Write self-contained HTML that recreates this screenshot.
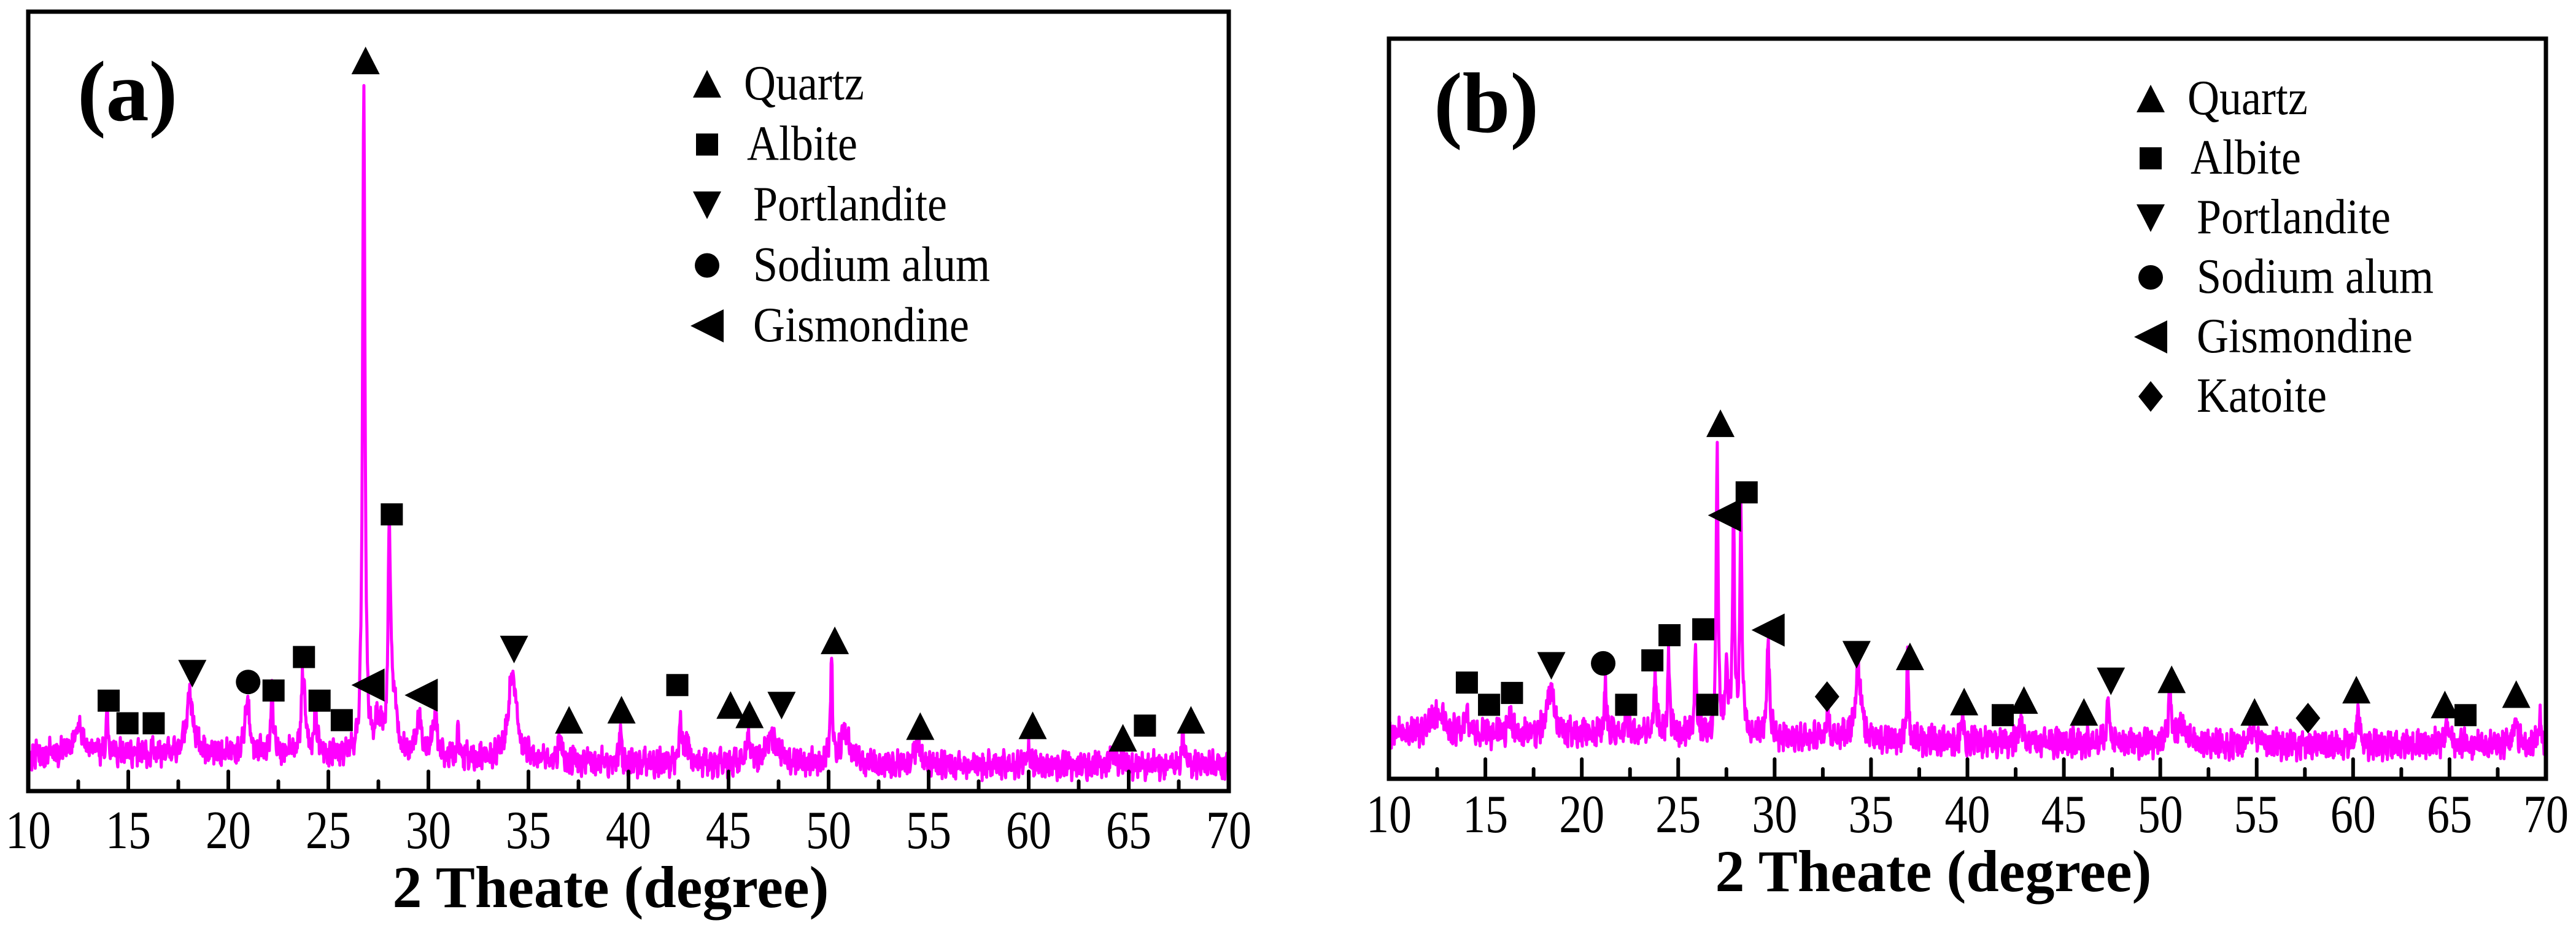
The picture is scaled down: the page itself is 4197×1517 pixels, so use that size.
<!DOCTYPE html>
<html><head><meta charset="utf-8">
<style>
html,body{margin:0;padding:0;background:#fff;}
svg{display:block;}
text{font-family:"Liberation Serif",serif;fill:#000;}
</style></head>
<body>
<svg id="fig" width="4197" height="1517" viewBox="0 0 4197 1517" xmlns="http://www.w3.org/2000/svg">
  <rect x="0" y="0" width="4197" height="1517" fill="#fff"/>
  <g id="panelA"></g>
  <g id="panelB"></g>
</svg>
<script>
// ---------- data ----------
const xTicks = [10,15,20,25,30,35,40,45,50,55,60,65,70];
const xTickLabels = ["10","15","20","25","30","35","40","45","50","55","60","65","70"];
const xTitle = "2 Theate (degree)";

// background intensity anchors [degree, intensity]
const bgA = [[10,4.6],[12.5,5.0],[25,4.6],[40,3.6],[55,3.3],[70,3.3]];
const bgB = [[10,6.0],[25,6.0],[35,5.2],[55,4.6],[70,4.6]];

// peaks: position (deg), amplitude (a.u.), half-width (deg)
const peakPosA = [12.5,13.94,18.08,20.95,22.18,23.74,24.35,26.77,27.5,28.05,28.3,29.5,30.3,31.5,34.2,36.6,39.6,42.6,42.9,45.97,47.2,50.15,50.85,54.45,60.0,64.26,67.74];
const peakAmpA = [3,5,7.5,6.5,7.5,10,6,86,4,28,6,5,5,4,11,2.5,4.5,5,4,3.5,3.5,13,4,2.5,2.5,1.5,3];
const peakWA   = [0.3,0.05,0.2,0.15,0.08,0.12,0.08,0.07,0.2,0.08,0.15,0.15,0.15,0.06,0.25,0.1,0.06,0.08,0.08,0.1,0.35,0.06,0.3,0.2,0.08,0.2,0.1];

const peakPosB = [12.5,14.0,16.25,18.38,21.23,22.3,23.8,24.5,25.9,27.02,27.5,27.87,28.25,29.66,32.72,34.34,36.9,39.74,42.8,47.3,50.5,51.15,54.85,60.25,64.85,68.4,69.7];
const peakAmpB = [3,3.5,3,6.5,7.5,3,7.5,11,12,38,8,29,29,13,3,9,12.5,3.5,3,6,7,3,2,6,2.5,4,5];
const peakWB   = [0.4,0.08,0.1,0.2,0.06,0.08,0.08,0.06,0.06,0.06,0.1,0.06,0.07,0.08,0.1,0.2,0.05,0.06,0.1,0.08,0.1,0.2,0.2,0.06,0.15,0.1,0.05];

// measured noise digits (0-9), two irregular sequences
const noiseDigits = "3817249056618302947725190384462719085302681947335028164917460253889102746358190247613580927144681305972816403759218846027319580624973108562849130756294801376592048318650279431869207351942876031584926703418952076481329705816243908573162940875321068479213587046192385704612897340516829374015628937410569283740156932847105692384715602938417560293841756029381475602938".split("").map(Number);
const noiseDigits2 = "52091874360281957436018294750361829475063182947506318924756038192475603819247560318924570631892457063189245706318924570613829457061382945706138294570613829475061382947506138294750".split("").map(Number);
const noiseA = 0.34, noiseB = 0.38;

// markers: type, degree, intensity
const mTypeA = ["sq","sq","sq","dn","ci","sq","sq","sq","sq","lt","lt","up","sq","dn","up","up","sq","up","up","dn","up","up","up","up","sq","up"];
const mDegA  = [14.02,14.96,16.27,18.2,20.99,22.26,23.78,24.56,25.67,26.98,29.64,26.86,28.17,34.28,37.03,39.65,42.44,45.1,46.05,47.65,50.31,54.58,60.2,64.71,65.81,68.11];
const mIntA  = [11.6,8.7,8.7,15.1,14.0,12.9,17.2,11.6,9.1,13.6,12.3,93.7,35.5,18.2,9.1,10.4,13.6,11.0,9.8,11.0,19.3,8.3,8.4,6.8,8.4,9.1];

const mTypeB = ["sq","sq","sq","dn","ci","sq","sq","sq","sq","sq","up","lt","sq","lt","di","dn","up","up","sq","up","up","dn","up","up","di","up","up","sq","up"];
const mDegB  = [14.04,15.19,16.38,18.42,21.11,22.3,23.66,24.55,26.3,26.51,27.19,27.4,28.55,29.66,32.72,34.25,37.02,39.83,41.83,42.93,46.04,47.44,50.59,54.89,57.66,60.17,64.76,65.83,68.46];
const mIntB  = [13.0,10.0,11.6,15.3,15.6,10.0,16.0,19.4,20.2,10.0,48.0,35.6,38.7,20.1,11.1,16.8,16.5,10.4,8.6,10.6,9.0,13.2,13.4,9.0,8.2,12.0,10.0,8.6,11.4];

const legendNamesA = ["Quartz","Albite","Portlandite","Sodium alum","Gismondine"];
const legendTypesA = ["up","sq","dn","ci","lt"];
const legendNamesB = ["Quartz","Albite","Portlandite","Sodium alum","Gismondine","Katoite"];
const legendTypesB = ["up","sq","dn","ci","lt","di"];

// ---------- drawing ----------
const NS = "http://www.w3.org/2000/svg";
function mk(tag, attrs, parent){
  const e = document.createElementNS(NS, tag);
  for (const k in attrs) e.setAttribute(k, attrs[k]);
  parent.appendChild(e);
  return e;
}
function interp(bg, x){
  for (let i=0;i<bg.length-1;i++){
    if (x<=bg[i+1][0]){ const t=(x-bg[i][0])/(bg[i+1][0]-bg[i][0]); return bg[i][1]+t*(bg[i+1][1]-bg[i][1]); }
  }
  return bg[bg.length-1][1];
}
function markerShape(g, type, cx, cy, name){
  let e;
  if (type==="sq") e = mk("rect",{x:cx-18,y:cy-18,width:36,height:36,fill:"#000"},g);
  else if (type==="up") e = mk("polygon",{points:`${cx},${cy-23} ${cx+23},${cy+22} ${cx-23},${cy+22}`,fill:"#000"},g);
  else if (type==="dn") e = mk("polygon",{points:`${cx-23},${cy-22} ${cx+23},${cy-22} ${cx},${cy+23}`,fill:"#000"},g);
  else if (type==="lt") e = mk("polygon",{points:`${cx-27},${cy} ${cx+27},${cy-27} ${cx+27},${cy+27}`,fill:"#000"},g);
  else if (type==="ci") e = mk("circle",{cx:cx,cy:cy,r:20,fill:"#000"},g);
  else e = mk("polygon",{points:`${cx},${cy-25} ${cx+20},${cy} ${cx},${cy+25} ${cx-20},${cy}`,fill:"#000"},g);
  
  
  return e;
}

function drawPanel(g, cfg){
  const {L,R,T,B,label,labelX,labelY,bg,pos,amp,wid,nAmp,nOff,mType,mDeg,mInt,lNames,lTypes,lx,ly0,lstep,tickLblY,titleX,titleY,tag} = cfg;
  const sx = d => L + (d-10)/60*(R-L);
  const sy = v => B - v/100*(B-T);

  // spectrum
  const step = 0.025;
  let d = "";
  const n = Math.round(60/step);
  const N1 = noiseDigits.length, N2 = noiseDigits2.length;
  for (let i=0;i<=n;i++){
    const x = 10 + i*step;
    let v = interp(bg,x);
    const a1 = noiseDigits[(i+nOff)%N1]-4.5;
    const a2 = noiseDigits2[(Math.floor(i/3)+nOff)%N2]-4.5;
    v += (a1*0.75 + a2*0.55)*nAmp;
    for (let k=0;k<pos.length;k++){ const u=(x-pos[k])/wid[k]; v += amp[k]/(1+u*u); }
    d += (i?"L":"M") + sx(x).toFixed(1) + "," + sy(v).toFixed(1);
  }
  const line = mk("path",{d:d,fill:"none",stroke:"#ff00ff","stroke-width":5,"stroke-linejoin":"round"},g);
  
  

  // frame
  const frame = mk("rect",{x:L,y:T,width:R-L,height:B-T,fill:"none",stroke:"#000","stroke-width":7},g);
  
  

  // ticks
  for (let t=10;t<=70;t+=2.5){
    const major = (t%5===0);
    if (t===10||t===70) continue;
    const tk = mk("line",{x1:sx(t),x2:sx(t),y1:B,y2:B-(major?32:16),stroke:"#000","stroke-width":6,"stroke-linecap":"round"},g);
    
    
  }
  for (let i=0;i<xTicks.length;i++){
    const tl = mk("text",{x:0,y:0,"font-size":88,"text-anchor":"middle",transform:`translate(${sx(xTicks[i])},${tickLblY}) scale(0.84,1)`},g);
    tl.textContent = xTickLabels[i];
    
    
  }
  const tt = mk("text",{x:titleX,y:titleY,"font-size":96,"font-weight":"bold","text-anchor":"middle"},g);
  tt.textContent = xTitle;
  
  

  const pl = mk("text",{x:labelX,y:labelY,"font-size":140,"font-weight":"bold"},g);
  pl.textContent = label;
  
  

  // peak markers
  for (let i=0;i<mType.length;i++){
    markerShape(g, mType[i], sx(mDeg[i]), sy(mInt[i]), 'peak-marker');
  }

  // legend
  for (let i=0;i<lNames.length;i++){
    const y = ly0 + i*lstep;
    const lg = mk("g",{},g);
    
    
    markerShape(lg, lTypes[i], lx, y-25, 'legend-symbol');
    const tx = lx + (i===0?60:(i===1?65:75));
    const txt = mk("text",{x:0,y:0,"font-size":80,transform:`translate(${tx},${y}) scale(0.9,1)`},lg);
    txt.textContent = lNames[i];
    
    
  }
}

drawPanel(document.getElementById("panelA"), {
  tag:"a", L:46, R:2002, T:19, B:1289, label:"(a)", labelX:126, labelY:196,
  bg:bgA, pos:peakPosA, amp:peakAmpA, wid:peakWA, nAmp:noiseA, nOff:0,
  mType:mTypeA, mDeg:mDegA, mInt:mIntA,
  lNames:legendNamesA, lTypes:legendTypesA, lx:1152, ly0:162, lstep:98.5,
  tickLblY:1382, titleX:995, titleY:1478
});
drawPanel(document.getElementById("panelB"), {
  tag:"b", L:2263, R:4148, T:63, B:1269, label:"(b)", labelX:2336, labelY:215,
  bg:bgB, pos:peakPosB, amp:peakAmpB, wid:peakWB, nAmp:noiseB, nOff:137,
  mType:mTypeB, mDeg:mDegB, mInt:mIntB,
  lNames:legendNamesB, lTypes:legendTypesB, lx:3504, ly0:186, lstep:97,
  tickLblY:1356, titleX:3150, titleY:1452
});
</script>
</body></html>
